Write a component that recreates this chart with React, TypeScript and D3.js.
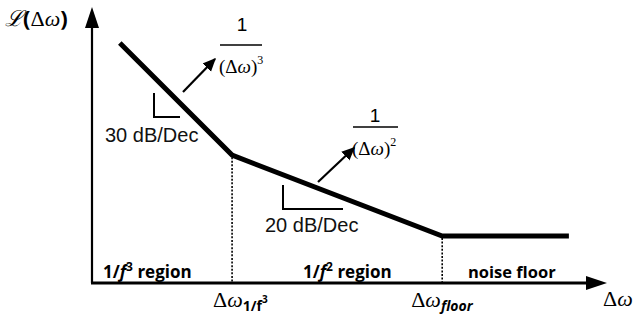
import React from "react";
import * as d3 from "d3";

// Asymptotic phase-noise profile (abstract units: offset position, level)
const breakpoints = ["start", "1/f3 corner", "floor corner", "end"];
const offsetValues = [5.4, 27.2, 68.0, 92.6];
const noiseLevels = [87.3, 46.5, 17.1, 17.1];

// Corner offsets that get a tick label and a dotted drop line
const cornerOffsets = [27.2, 68.0];

const regionLabels = ["1/f³ region", "1/f² region", "noise floor"];
const slopeLabels = ["30 dB/Dec", "20 dB/Dec"];

const W = 635;
const H = 326;

export default function App() {
  const x = d3.scaleLinear().domain([0, 100]).range([92, 607]);
  const y = d3.scaleLinear().domain([0, 100]).range([283, 8]);

  const pts = offsetValues.map((v, i) => ({ name: breakpoints[i], x: v, y: noiseLevels[i] }));
  const line = d3
    .line<{ x: number; y: number }>()
    .x((d) => x(d.x))
    .y((d) => y(d.y));

  const x0 = x(0);
  const y0 = y(0);
  const serif = "'Liberation Serif', 'DejaVu Serif', serif";
  const sans = "'Liberation Sans', Arial, sans-serif";
  const bold = "'Open Sans', 'Liberation Sans', sans-serif";

  return (
    <svg
      width={W}
      height={H}
      viewBox={`0 0 ${W} ${H}`}
      style={{ position: "absolute", left: 0, top: 0, background: "#fff" }}
    >
      <defs>
        <marker id="ah" viewBox="0 0 10 10" refX="9" refY="5" markerWidth="6" markerHeight="6" orient="auto">
          <path d="M0,0.5 L10,5 L0,9.5 z" fill="#000" />
        </marker>
      </defs>

      {/* axes */}
      <line x1={x0} y1={y0} x2={x0} y2={26} stroke="#000" strokeWidth={2.2} />
      <path d={`M${x0 - 7},28 L${x0},7 L${x0 + 7},28 Z`} fill="#000" />
      <line x1={x0 - 1} y1={y0} x2={588} y2={y0} stroke="#000" strokeWidth={2.8} />
      <path d={`M586,${y0 - 7} L${x(100)},${y0} L586,${y0 + 7} Z`} fill="#000" />

      {/* dotted corner drop lines */}
      {cornerOffsets.map((c, i) => {
        const idx = offsetValues.indexOf(c);
        return (
          <line
            key={i}
            x1={x(c)}
            x2={x(c)}
            y1={y(noiseLevels[idx]) + 2}
            y2={y0}
            stroke="#000"
            strokeWidth={1.6}
            strokeDasharray="2,1.6"
          />
        );
      })}

      {/* noise profile */}
      <path d={line(pts) || ""} fill="none" stroke="#000" strokeWidth={5} strokeLinejoin="miter" />

      {/* slope markers */}
      <path d="M154,93 L154,117 L180,117" fill="none" stroke="#000" strokeWidth={2} />
      <path d="M283,185 L283,209 L343,209" fill="none" stroke="#000" strokeWidth={2} />
      <text x={105} y={142} fontFamily={sans} fontSize={20} fill="#111">{slopeLabels[0]}</text>
      <text x={265} y={232} fontFamily={sans} fontSize={20} fill="#111">{slopeLabels[1]}</text>

      {/* pointer arrows */}
      <line x1={183} y1={92} x2={215} y2={59} stroke="#000" strokeWidth={2.2} markerEnd="url(#ah)" />
      <line x1={318} y1={182} x2={354} y2={148} stroke="#000" strokeWidth={2.2} markerEnd="url(#ah)" />

      {/* 1/(Δω)^3 */}
      <text x={242} y={31} fontFamily={sans} fontSize={19} textAnchor="middle">1</text>
      <line x1={220} y1={45} x2={262} y2={45} stroke="#000" strokeWidth={1.3} />
      <text x={219} y={73} fontFamily={serif} fontSize={19}>
        (Δ<tspan fontStyle="italic">ω</tspan>)
        <tspan fontSize={12} dy={-9}>3</tspan>
      </text>

      {/* 1/(Δω)^2 */}
      <text x={375} y={122} fontFamily={sans} fontSize={19} textAnchor="middle">1</text>
      <line x1={353} y1={127} x2={398} y2={127} stroke="#000" strokeWidth={1.3} />
      <text x={352} y={155} fontFamily={serif} fontSize={19}>
        (Δ<tspan fontStyle="italic">ω</tspan>)
        <tspan fontSize={12} dy={-9}>2</tspan>
      </text>

      {/* region labels */}
      <text x={103} y={278} fontFamily={bold} fontWeight="bold" fontSize={17}>
        1/<tspan fontStyle="italic">f</tspan>
        <tspan fontSize={12} dy={-7}>3</tspan>
        <tspan dy={7}> region</tspan>
      </text>
      <text x={303} y={278} fontFamily={bold} fontWeight="bold" fontSize={17}>
        1/<tspan fontStyle="italic">f</tspan>
        <tspan fontSize={12} dy={-7}>2</tspan>
        <tspan dy={7}> region</tspan>
      </text>
      <text x={468} y={278} fontFamily={bold} fontWeight="bold" fontSize={16.5}>
        {regionLabels[2]}
      </text>

      {/* corner tick labels */}
      <text x={x(cornerOffsets[0]) - 19} y={307} fontFamily={serif} fontSize={22}>
        Δ<tspan fontStyle="italic">ω</tspan>
        <tspan fontFamily={bold} fontWeight="bold" fontSize={14} dy={4}>1/f</tspan>
        <tspan fontFamily={bold} fontWeight="bold" fontSize={10} dy={-8}>3</tspan>
      </text>
      <text x={x(cornerOffsets[1]) - 31} y={307} fontFamily={serif} fontSize={22}>
        Δ<tspan fontStyle="italic">ω</tspan>
        <tspan fontFamily={bold} fontWeight="bold" fontStyle="italic" fontSize={14} dy={4}>floor</tspan>
      </text>

      {/* axis titles */}
      <text x={603} y={306} fontFamily={serif} fontSize={22}>
        Δ<tspan fontStyle="italic">ω</tspan>
      </text>
      <text x={5} y={26} fontFamily={serif} fontSize={22}>
        <tspan fontFamily="'DejaVu Serif', serif" fontStyle="italic">ℒ</tspan>
        <tspan fontFamily={bold} fontWeight="bold">(</tspan>
        Δ<tspan fontStyle="italic">ω</tspan>
        <tspan fontFamily={bold} fontWeight="bold">)</tspan>
      </text>
    </svg>
  );
}
